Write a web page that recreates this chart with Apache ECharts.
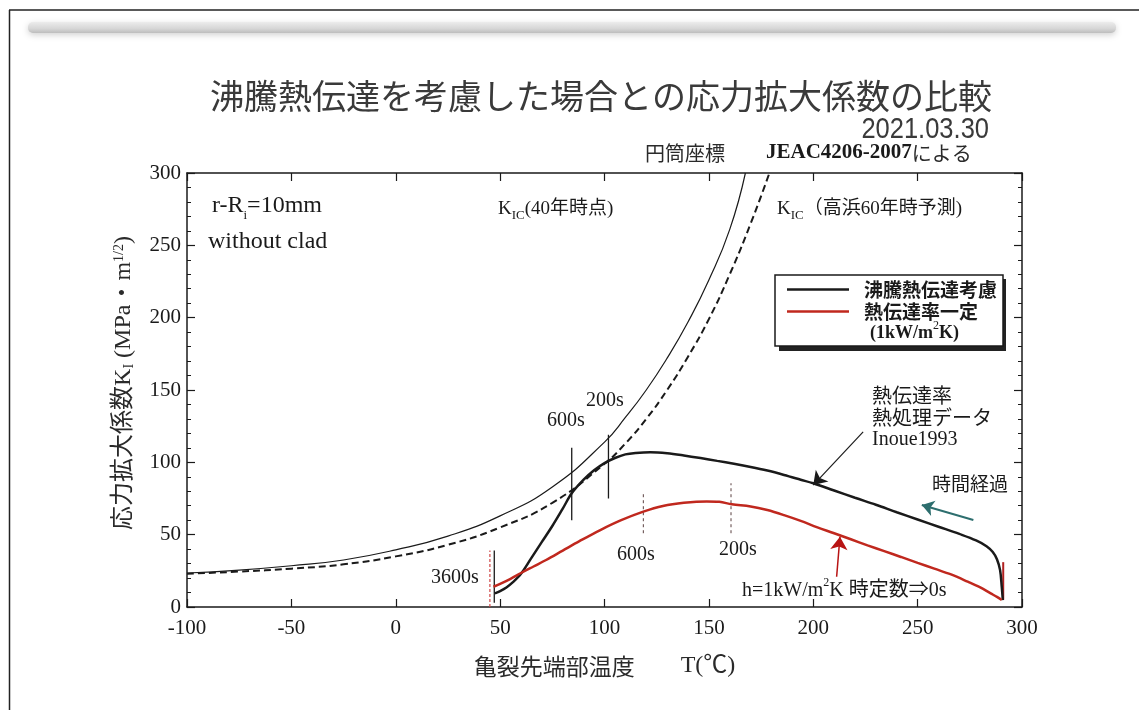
<!DOCTYPE html>
<html>
<head>
<meta charset="utf-8">
<script src="https://cdn.jsdelivr.net/npm/echarts@6/dist/echarts.min.js"></script>
<style>
  html, body { margin: 0; padding: 0; background: #fff; }
  #chart { width: 1139px; height: 710px; }
</style>
</head>
<body>
<div id="chart"></div>
<script>
const SERIF = "'Liberation Serif', 'Noto Sans CJK JP', serif";
const CJK = "'Noto Sans CJK JP', 'Liberation Serif', sans-serif";
const INK = '#1a1a1a';
const RED = '#c0281e';

// axis ranges (crack-tip temperature, stress intensity factor)
const xMin = -100, xMax = 300, xStep = 50;
const yMin = 0, yMax = 300, yStep = 50;

// K_IC curve at the 40-year point (thin solid)
const kic40T = [-100, -75, -50, -25, 0, 25, 50, 75, 100, 110, 120, 130, 140, 150, 160, 167.5];
const kic40K = [23.5, 25.5, 28.5, 32.5, 39.5, 49, 63, 83, 114, 131, 150, 172, 197, 226, 261, 300];

// K_IC curve, Takahama 60-year prediction (dashed)
const kic60T = [-100, -75, -50, -25, 0, 25, 50, 75, 100, 110, 120, 130, 140, 150, 160, 170, 179];
const kic60K = [23, 24.5, 26.5, 29.5, 35, 43, 55, 72, 99, 113, 130, 150, 173, 199, 230, 265, 300];

// K_I with boiling heat transfer taken into account
const boilT = [47.5, 50, 53, 56, 60, 65, 70, 75, 80, 84.3, 90, 95, 100, 105, 110, 115, 122, 130, 138, 146, 154, 162, 170, 178, 186, 194, 200, 210, 220, 230, 240, 250, 260, 270, 278, 283, 286, 288, 289.5, 290.3, 290.8];
const boilK = [9.4, 11, 13.5, 17, 23, 34, 45, 56, 68, 78.6, 88, 94.5, 99.5, 103, 105.5, 106.5, 107, 106.3, 104.8, 103, 101, 99, 96.8, 94.3, 91.3, 88, 85.5, 80.5, 75.5, 70.7, 65.5, 60.5, 55.5, 50.5, 46, 42, 38, 33, 25.5, 14, 4.8];

// K_I with a constant heat transfer coefficient (1 kW/m2K)
const constT = [46.8, 50, 55, 60, 66, 72, 80, 88, 98, 108, 118.6, 128, 138, 149, 155, 161, 170, 178, 186, 194, 202, 210, 218, 226, 234, 242, 250, 258, 266, 274, 280, 285, 288, 290.3];
const constK = [14, 16, 19.5, 23.5, 28, 32.5, 39, 45.5, 53.2, 60, 65.9, 69.8, 72, 73, 72.7, 71, 69.5, 67, 63.5, 59.5, 55, 51, 46.8, 42.6, 38.6, 34.6, 30.5, 26.5, 22.5, 17.5, 13.5, 9.4, 7, 4.8];

// elapsed-time markers: [T, K from, K to]
const boilMarks = [[84.3, 60, 110], [101.9, 75, 119], [47.2, 3, 39]];   // 600s, 200s, 3600s
const constMarks = [[118.6, 51, 80], [160.6, 51, 85.5]];               // 600s, 200s
const startMark = [45.1, 0, 39];                                      // 3600s
const endMark = [291, 5, 31];                                         // time constant -> 0s

// annotation arrows: [[T0, K0], [T1, K1]] (tail -> head)
const arrowInoue = [[223.9, 121.1], [200, 84.3]];
const arrowTime = [[276.7, 60.1], [252, 70.5]];
const arrowH = [[211.2, 20.9], [212.8, 48.6]];

const zip = (a, b) => a.map((v, i) => [v, b[i]]);

function segSeries(m, color, width, type) {
  return {
    type: 'line', data: [[m[0], m[1]], [m[0], m[2]]],
    symbol: 'none', silent: true, animation: false, z: 3,
    lineStyle: { color: color, width: width, type: type }
  };
}

function arrowLine(a, color, width, size) {
  return [{ coord: a[0], symbol: 'none' },
          { coord: a[1], symbol: 'arrow', symbolSize: size,
            lineStyle: { color: color, width: width, type: 'solid' },
            itemStyle: { color: color } }];
}

function txt(x, y, text, o) {
  o = o || {};
  return {
    type: 'text', x: x, y: y, silent: true, z: 20,
    scaleX: o.scaleX || 1,
    style: {
      text: text,
      fontFamily: o.font || SERIF,
      fontSize: o.size || 20,
      fontWeight: o.weight || 'normal',
      fill: o.color || INK,
      align: o.align || 'left',
      verticalAlign: 'middle',
      rich: o.rich
    }
  };
}

const subRich = { s: { fontSize: 13, verticalAlign: 'bottom', fontFamily: SERIF, fill: INK, padding: [0, 0, -4, 0] } };
const supRich = { p: { fontSize: 12, verticalAlign: 'top', fontFamily: SERIF, fill: INK, padding: [-4, 0, 0, 0] } };

const axisBase = {
  type: 'value',
  axisLine: { show: true, onZero: false, lineStyle: { color: INK, width: 1.5 } },
  axisTick: { show: true, inside: true, length: 8, lineStyle: { color: INK, width: 1.2 } },
  splitLine: { show: false },
  minorSplitLine: { show: false }
};

const chart = echarts.init(document.getElementById('chart'), null, { renderer: 'canvas' });

const series = [
  {
    name: 'KIC40', type: 'line', data: zip(kic40T, kic40K), smooth: true,
    symbol: 'none', silent: true, z: 2,
    lineStyle: { color: INK, width: 1.2 }
  },
  {
    name: 'KIC60', type: 'line', data: zip(kic60T, kic60K), smooth: true,
    symbol: 'none', silent: true, z: 2,
    lineStyle: { color: INK, width: 2, type: [7, 4] }
  },
  {
    name: '沸騰熱伝達考慮', type: 'line', data: zip(boilT, boilK), smooth: 0.35,
    symbol: 'none', silent: true, z: 4, color: INK,
    lineStyle: { color: INK, width: 2.5 },
    markLine: {
      silent: true, animation: false, label: { show: false },
      lineStyle: { color: INK, width: 1.2, type: 'solid' },
      data: [arrowLine(arrowInoue, INK, 1.2, 13)]
    }
  },
  {
    name: '熱伝達率一定', type: 'line', data: zip(constT, constK), smooth: 0.35,
    symbol: 'none', silent: true, z: 4, color: RED,
    lineStyle: { color: RED, width: 2.5 },
    markLine: {
      silent: true, animation: false, label: { show: false },
      data: [arrowLine(arrowH, '#b81414', 1.5, 13), arrowLine(arrowTime, '#2d6e6e', 2, 12)]
    }
  }
];
boilMarks.forEach(m => series.push(segSeries(m, INK, 1.3, 'solid')));
constMarks.forEach(m => series.push(segSeries(m, '#5a4040', 1, [3, 3])));
series.push(segSeries(startMark, '#d04848', 1.2, [3, 2]));
series.push(segSeries(endMark, '#b02020', 2, 'solid'));

const lineIcon = 'path://M0,0H62V2.5H0Z';

chart.setOption({
  animation: false,
  backgroundColor: '#fff',
  grid: { left: 187, right: 117, top: 173, bottom: 103 },
  xAxis: [
    Object.assign({}, axisBase, {
      min: xMin, max: xMax, interval: xStep, position: 'bottom',
      axisLabel: { margin: 11, fontSize: 21, fontFamily: SERIF, color: INK },
      name: '亀裂先端部温度　　{t|T(℃)}',
      nameLocation: 'middle', nameGap: 47,
      nameTextStyle: { fontFamily: CJK, fontSize: 23, color: '#2a2a2a',
        rich: { t: { fontFamily: SERIF, fontSize: 24, color: '#2a2a2a' } } }
    }),
    Object.assign({}, axisBase, {
      min: xMin, max: xMax, interval: xStep, position: 'top',
      axisLabel: { show: false }
    })
  ],
  yAxis: [
    Object.assign({}, axisBase, {
      min: yMin, max: yMax, interval: yStep, position: 'left',
      minorTick: { show: true, splitNumber: 5, length: 4, lineStyle: { color: INK, width: 1 } },
      axisLabel: { margin: 6, fontSize: 21, fontFamily: SERIF, color: INK },
      name: '応力拡大係数K{sub|I} (MPa・m{sup|1/2})',
      nameLocation: 'middle', nameRotate: 90, nameGap: 51,
      nameTextStyle: { fontFamily: SERIF, fontSize: 24, color: '#2a2a2a', padding: [0, 0, 0, 14],
        rich: {
          sub: { fontSize: 14, verticalAlign: 'bottom', fontFamily: SERIF, color: '#2a2a2a' },
          sup: { fontSize: 14, verticalAlign: 'top', fontFamily: SERIF, color: '#2a2a2a' }
        } }
    }),
    Object.assign({}, axisBase, {
      min: yMin, max: yMax, interval: yStep, position: 'right',
      minorTick: { show: true, splitNumber: 5, length: 4, lineStyle: { color: INK, width: 1 } },
      axisLabel: { show: false }
    })
  ],
  legend: {
    data: [{ name: '沸騰熱伝達考慮', icon: lineIcon }, { name: '熱伝達率一定', icon: lineIcon }],
    orient: 'vertical', left: 775, top: 275, z: 6,
    itemWidth: 62, itemHeight: 14, itemGap: 3,
    symbolKeepAspect: true,
    padding: [5, 6, 25, 12],
    backgroundColor: '#fff', borderColor: INK, borderWidth: 1.5,
    selectedMode: false,
    textStyle: { fontFamily: CJK, fontWeight: 'bold', fontSize: 19, lineHeight: 16, color: INK, padding: [0, 0, 0, 10] }
  },
  series: series,
  graphic: [
    // page frame and header bar
    { type: 'line', silent: true, shape: { x1: 9, y1: 10, x2: 1139, y2: 10 }, style: { stroke: '#222', lineWidth: 1.5 } },
    { type: 'line', silent: true, shape: { x1: 9.5, y1: 10, x2: 9.5, y2: 710 }, style: { stroke: '#222', lineWidth: 1.5 } },
    { type: 'rect', silent: true, shape: { x: 28, y: 22, width: 1088, height: 11, r: 5 },
      style: { fill: new echarts.graphic.LinearGradient(0, 0, 0, 1, [
        { offset: 0, color: '#ececec' }, { offset: 0.6, color: '#d6d6d6' }, { offset: 1, color: '#bdbdbd' }]),
        shadowBlur: 6, shadowColor: 'rgba(0,0,0,0.18)', shadowOffsetY: 2 } },
    // drop shadow behind the legend box
    { type: 'rect', silent: true, z: 5, shape: { x: 779, y: 279, width: 227, height: 72 }, style: { fill: '#222' } },

    // headings
    txt(601, 96, '沸騰熱伝達を考慮した場合との応力拡大係数の比較', { font: CJK, size: 34, align: 'center', color: '#3a3a3a' }),
    txt(989, 130, '2021.03.30', { font: "'Liberation Sans', sans-serif", size: 30, align: 'right', scaleX: 0.85, color: '#3a3a3a' }),
    txt(685, 153, '円筒座標', { font: CJK, size: 20, align: 'center', color: '#2a2a2a' }),
    txt(766, 153, '{b|JEAC4206-2007}による', { font: CJK, size: 20, color: '#2a2a2a',
      rich: { b: { fontFamily: SERIF, fontWeight: 'bold', fontSize: 21, fill: '#1a1a1a' } } }),

    // notes inside the plot
    txt(212, 206, 'r-R{s|i}=10mm', { size: 24, rich: subRich }),
    txt(208, 242, 'without clad', { size: 24 }),
    txt(498, 209, 'K{s|IC}(40年時点)', { size: 19, rich: subRich }),
    txt(777, 209, 'K{s|IC}（高浜60年時予測)', { size: 19, rich: subRich }),
    txt(870, 333, '(1kW/m{p|2}K)', { size: 18, weight: 'bold', rich: supRich }),

    txt(605, 401, '200s', { align: 'center' }),
    txt(566, 421, '600s', { align: 'center' }),
    txt(636, 555, '600s', { align: 'center' }),
    txt(738, 550, '200s', { align: 'center' }),
    txt(455, 578, '3600s', { align: 'center' }),

    txt(872, 395, '熱伝達率', { font: CJK, size: 20 }),
    txt(872, 417, '熱処理データ', { font: CJK, size: 20 }),
    txt(872, 440, 'Inoue1993', { size: 20 }),
    txt(970, 484, '時間経過', { font: CJK, size: 19, align: 'center' }),
    txt(742, 591, 'h=1kW/m{p|2}K 時定数⇒0s', { size: 20, rich: supRich })
  ]
});
</script>
</body>
</html>
